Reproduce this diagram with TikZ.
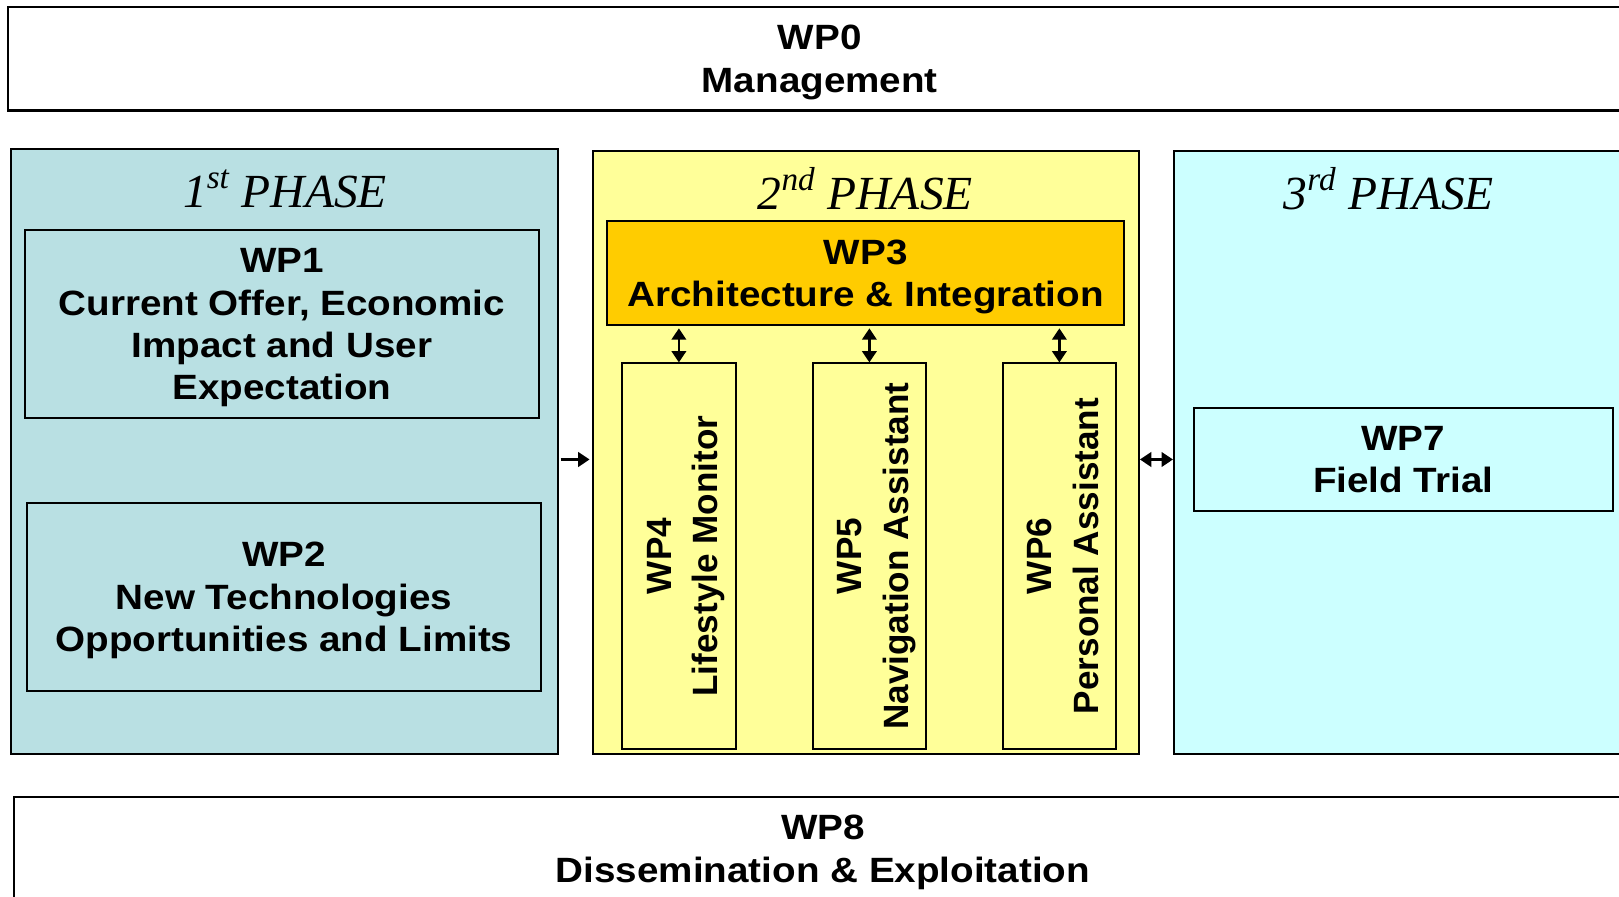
\documentclass[tikz,border=0pt]{standalone}
\usepackage{fontspec}
\setmainfont[FakeStretch=1.1]{Liberation Sans}
\newfontfamily\rotfont{Liberation Sans}
\newfontfamily\phasefont{Liberation Serif}
\usetikzlibrary{arrows.meta}
\definecolor{phaseone}{HTML}{B9E0E3}
\definecolor{phasetwo}{HTML}{FFFF99}
\definecolor{phasethree}{HTML}{CCFFFF}
\definecolor{wpthree}{HTML}{FFCC00}
\tikzset{
  wpbox/.style={draw=black, line width=1pt, inner sep=0pt, align=center, text depth=0pt,
    font=\fontsize{17}{20.5}\selectfont\bfseries},
  phasebox/.style={draw=black, line width=1pt, inner sep=0pt},
  phasetitle/.style={inner sep=0pt, font=\fontsize{23}{26}\selectfont\phasefont\itshape},
  tip/.tip={Triangle[length=5.5pt,width=7pt]},
  conn/.style={line width=1.2pt, -tip},
  dconn/.style={line width=1.2pt, tip-tip},
}
\newcommand{\vtext}[2]{\hspace*{6pt}\rotatebox{90}{\fontsize{17}{22.5}\rotfont\bfseries\begin{tabular}{@{}c@{}}#1\\#2\end{tabular}}}
\begin{document}
\begin{tikzpicture}[x=0.5pt,y=-0.5pt]
\useasboundingbox (0,0) rectangle (1568,868);
\fill[white] (0,0) rectangle (1568,868);
% WP0
\node[wpbox, minimum width=786pt, minimum height=50pt] (wp0) at (794,57) {WP0\\Management};
% phases
\node[phasebox, fill=phaseone, minimum width=264.5pt, minimum height=293pt] (p1) at (275.5,437) {};
\node[phasebox, fill=phasetwo, minimum width=264.5pt, minimum height=292pt] (p2) at (838.5,438) {};
\node[phasebox, fill=phasethree, minimum width=264.5pt, minimum height=292pt] (p3) at (1401.5,438) {};
\node[phasetitle] (t1) at (276,183) {1\textsuperscript{st} PHASE};
\node[phasetitle] (t2) at (838,183) {2\textsuperscript{nd} PHASE};
\node[phasetitle] (t3) at (1345,183) {3\textsuperscript{rd} PHASE};
% phase 1
\node[wpbox, minimum width=249pt, minimum height=91pt] (wp1) at (273,314)
  {WP1\\Current Offer, Economic\\Impact and User\\Expectation};
\node[wpbox, minimum width=249pt, minimum height=91pt] (wp2) at (275,578)
  {WP2\\New Technologies\\Opportunities and Limits};
% phase 2
\node[wpbox, fill=wpthree, minimum width=250.5pt, minimum height=50.5pt] (wp3) at (838.5,264.5)
  {WP3\\Architecture \& Integration};
\node[wpbox, minimum width=55.5pt, minimum height=186.5pt] (wp4) at (657.5,538.5)
  {\vtext{WP4}{Lifestyle Monitor}};
\node[wpbox, minimum width=55pt, minimum height=186.5pt] (wp5) at (842,538.5)
  {\vtext{WP5}{Navigation Assistant}};
\node[wpbox, minimum width=55pt, minimum height=186.5pt] (wp6) at (1026,538.5)
  {\vtext{WP6}{Personal Assistant}};
% phase 3
\node[wpbox, minimum width=203pt, minimum height=50pt] (wp7) at (1359,445)
  {WP7\\Field Trial};
% WP8
\node[wpbox, minimum width=783pt, minimum height=50pt] (wp8) at (797,822)
  {WP8\\Dissemination \& Exploitation};
% connectors
\draw[dconn] ([yshift=-1pt]wp3.south -| wp4.north) -- (wp4.north);
\draw[dconn] ([yshift=-1pt]wp3.south -| wp5.north) -- (wp5.north);
\draw[dconn] ([yshift=-1pt]wp3.south -| wp6.north) -- (wp6.north);
\draw[conn] ([xshift=1pt]p1.east |- wp7.center) -- ([xshift=-1pt]p2.west |- wp7.center);
\draw[dconn] (p2.east |- wp7.center) -- (p3.west |- wp7.center);
\end{tikzpicture}
\end{document}
